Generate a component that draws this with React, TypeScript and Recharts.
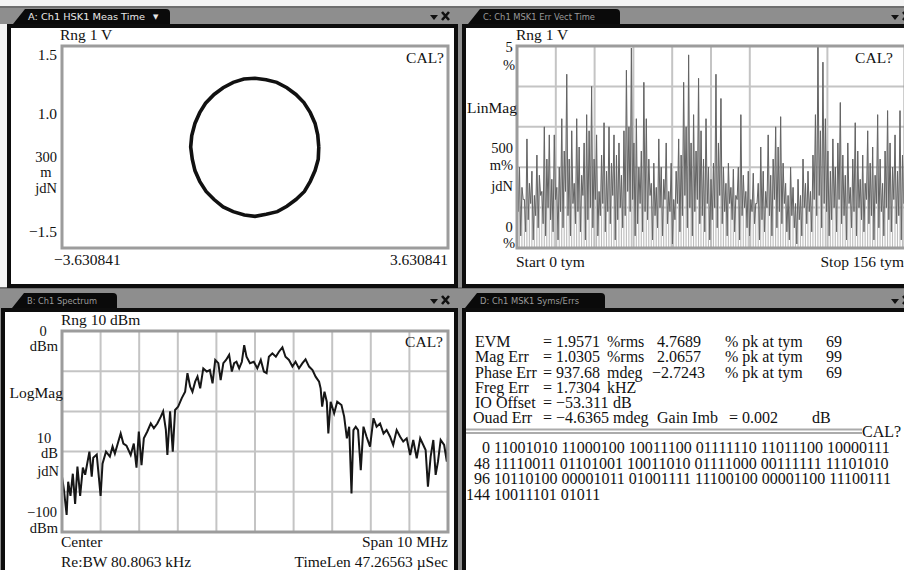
import React from 'react';
import { LineChart, Line, XAxis, YAxis, CartesianGrid, ComposedChart, Bar } from 'recharts';

const serif = '"Liberation Serif", "Times New Roman", serif';

// ---- A: I/Q trace (constellation circle) ----
const iqI = [1.2, 1.18, 1.13, 1.04, 0.92, 0.77, 0.6, 0.41, 0.21, 0.0, -0.21, -0.41, -0.6, -0.77, -0.93, -1.04, -1.13, -1.19, -1.21, -1.18, -1.13, -1.04, -0.92, -0.77, -0.6, -0.41, -0.2, 0.0, 0.21, 0.42, 0.6, 0.77, 0.93, 1.04, 1.13, 1.19, 1.2];
const iqQ = [0.0, 0.18, 0.35, 0.51, 0.66, 0.78, 0.88, 0.96, 1.0, 1.02, 1.01, 0.96, 0.88, 0.78, 0.65, 0.51, 0.35, 0.17, 0.0, -0.18, -0.35, -0.51, -0.66, -0.78, -0.89, -0.96, -1.01, -1.03, -1.0, -0.96, -0.88, -0.78, -0.66, -0.51, -0.35, -0.18, 0.0];

// ---- C: error vector magnitude per symbol (%) ----
const errPeak = [
  2.6, 2.0, 1.5, 1.2, 2.7, 1.6, 1.9, 1.3, 2.3, 1.8,
  1.4, 3.0, 2.2, 2.8, 1.7, 2.8, 1.5, 2.0, 3.2, 2.4,
  4.3, 2.2, 2.9, 1.6, 3.2, 2.5, 1.8, 2.6, 3.3, 2.9,
  4.0, 2.2, 2.8, 1.4, 2.3, 3.1, 1.9, 3.0, 2.1, 2.8,
  2.3, 2.6, 1.8, 2.9, 4.4, 3.0, 4.95, 2.6, 3.2, 2.0,
  2.4, 4.1, 3.2, 2.2, 1.6, 2.1, 1.5, 2.7, 2.0, 1.7,
  2.6, 1.4, 2.1, 1.2, 1.9, 2.7, 2.3, 4.1, 3.0, 4.78,
  2.6, 3.3, 2.4, 4.2, 2.9, 2.2, 3.2, 2.0, 1.7, 2.1,
  4.3, 2.6, 3.7, 2.0, 1.6, 2.1, 1.5, 1.95, 1.3, 2.0,
  3.3, 1.8, 1.4, 1.9, 1.2, 1.85, 1.1, 1.6, 2.5, 1.9,
  1.4, 2.8, 1.8, 2.2, 3.0, 2.5, 3.25, 2.1, 1.6, 1.3,
  2.0, 1.5, 1.1, 1.7, 1.3, 2.2, 1.6, 1.9, 1.4, 2.3,
  3.3, 5.0, 2.9, 4.6, 3.2, 2.4, 1.9, 2.7, 2.0, 2.6,
  3.6, 2.3, 1.8, 2.6, 1.5, 2.2, 3.1, 2.4, 1.7, 2.3,
  1.6, 2.9, 2.1, 2.5, 1.8, 3.3, 2.2, 1.6, 2.4, 3.4,
  2.6, 2.0, 2.8, 1.9, 3.4, 2.3, 2.9,
];
const errLow = [
  0.9, 0.3, 1.2, 0.4, 0.7, 1.1, 0.2, 0.8, 0.5, 1.3,
  0.6, 0.3, 1.0, 0.7, 0.4, 1.2, 0.2, 0.9, 0.5, 1.4,
  0.8, 0.3, 1.1, 0.6, 0.9, 0.4, 1.3, 0.2, 0.7, 1.0,
  0.5, 1.2, 0.3, 0.8, 1.1, 0.4, 0.9, 0.6, 1.3, 0.2,
  0.7, 1.0, 0.5, 0.8, 1.4, 0.9, 1.2, 0.3, 0.6, 1.1,
  0.4, 0.9, 0.7, 1.3, 0.2, 0.8, 0.5, 1.0, 0.3, 1.2,
  0.6, 0.9, 0.1, 0.7, 1.1, 0.4, 0.8, 1.3, 0.5, 1.0,
  0.3, 0.9, 1.2, 0.6, 0.8, 0.4, 1.1, 0.2, 0.7, 1.0,
  0.5, 1.3, 0.6, 0.9, 0.3, 1.1, 0.7, 0.4, 1.2, 0.2,
  0.8, 1.0, 0.5, 0.3, 0.9, 0.6, 1.1, 0.2, 0.7, 0.4,
  1.0, 0.8, 0.3, 1.2, 0.5, 0.9, 0.6, 1.1, 0.4, 0.2,
  0.8, 0.5, 0.1, 0.7, 0.3, 1.0, 0.6, 0.9, 0.4, 1.2,
  0.8, 1.3, 0.5, 1.1, 0.9, 0.3, 0.7, 1.0, 0.4, 1.2,
  0.6, 0.8, 0.2, 1.1, 0.5, 0.9, 0.3, 1.0, 0.7, 0.4,
  1.2, 0.6, 0.8, 0.2, 1.1, 0.5, 0.9, 0.3, 1.0, 0.7,
  0.4, 1.2, 0.6, 0.8, 0.2, 1.1, 0.5,
];
const errXTicks = [0, 15.6, 31.2, 46.8, 62.4, 78, 93.6, 109.2, 124.8, 140.4, 156];
const errYTicks = [0, 0.5, 1, 1.5, 2, 2.5, 3, 3.5, 4, 4.5, 5];

// ---- B: spectrum (MHz offset from center, dBm) ----
const specFreq = [
  -5.0, -4.95, -4.88, -4.84, -4.78, -4.72, -4.66, -4.6, -4.53, -4.46,
  -4.4, -4.29, -4.23, -4.19, -4.1, -4.0, -3.95, -3.86, -3.76, -3.69,
  -3.63, -3.57, -3.48, -3.41, -3.33, -3.22, -3.14, -3.07, -3.01, -2.94,
  -2.88, -2.79, -2.7, -2.62, -2.53, -2.44, -2.38, -2.31, -2.27, -2.2,
  -2.13, -2.07, -1.99, -1.9, -1.81, -1.75, -1.68, -1.62, -1.55, -1.49,
  -1.42, -1.34, -1.25, -1.17, -1.1, -1.03, -0.95, -0.89, -0.82, -0.75,
  -0.67, -0.6, -0.54, -0.48, -0.41, -0.34, -0.28, -0.22, -0.13, -0.03,
  0.06, 0.15, 0.23, 0.3, 0.36, 0.45, 0.54, 0.62, 0.71, 0.79,
  0.88, 0.97, 1.05, 1.14, 1.23, 1.31, 1.4, 1.49, 1.57, 1.66,
  1.7, 1.74, 1.8, 1.86, 1.9, 1.96, 2.05, 2.13, 2.24, 2.31,
  2.38, 2.44, 2.5, 2.55, 2.61, 2.67, 2.74, 2.81, 2.89, 2.98,
  3.07, 3.15, 3.24, 3.33, 3.41, 3.5, 3.58, 3.67, 3.76, 3.84,
  3.93, 4.02, 4.1, 4.19, 4.28, 4.36, 4.42, 4.48, 4.55, 4.62,
  4.68, 4.74, 4.81, 4.9, 4.97, 5.0,
];
const specDb = [
  -72.5, -79, -91.5, -75, -82, -71, -86, -67.5, -82, -68,
  -71.5, -60, -72.5, -63, -61.5, -82, -66, -60, -62.5, -57.5,
  -61, -57, -51, -56, -57, -61.7, -56, -68, -50, -66.7,
  -53.4, -50, -46, -48.4, -46, -42.6, -40, -49, -61.7, -40,
  -60, -39.3, -37.6, -33.5, -30.2, -21, -27.7, -30.2, -25.2, -22.7,
  -28.5, -18.6, -20.2, -19.4, -26, -14.4, -16, -24.4, -16, -14.4,
  -11.9, -20.2, -16, -15.3, -18.6, -15.3, -7, -12.8, -16, -15.3,
  -18.6, -14.4, -20.2, -21, -12.8, -11.1, -12.8, -10.3, -8.1, -12.8,
  -14.4, -17.7, -15.3, -18.6, -16, -14.1, -17.7, -19.4, -22.7, -25.2,
  -28.5, -37.6, -30.2, -35.2, -51, -35.2, -41, -35.2, -36.8, -42.6,
  -53.4, -47.6, -80.8, -49.3, -47.6, -49.3, -69.2, -47.6, -52.6, -57.5,
  -43.4, -47.6, -46, -51, -49.3, -52.6, -56.7, -49.3, -52.6, -55,
  -53.4, -61.7, -54.2, -63.3, -53.4, -56.7, -59.2, -77.4, -62.5, -54.2,
  -71.6, -65, -54.2, -56.7, -65, -52.6,
];
const specXTicks = [-5, -4, -3, -2, -1, 0, 1, 2, 3, 4, 5];
const specYTicks = [-100, -90, -80, -70, -60, -50, -40, -30, -20, -10, 0];

// ---- D: symbol / error table ----
const measRows = [
  [['EVM', 475], ['= 1.9571', 543], ['%rms', 607], ['4.7689', 657], ['% pk at tym', 725], ['69', 826]],
  [['Mag Err', 475], ['= 1.0305', 543], ['%rms', 607], ['2.0657', 657], ['% pk at tym', 725], ['99', 826]],
  [['Phase Err', 475], ['= 937.68', 543], ['mdeg', 607], ['\u22122.7243', 652], ['% pk at tym', 725], ['69', 826]],
  [['Freg Err', 475], ['= 1.7304', 543], ['kHZ', 607]],
  [['IO Offset', 475], ['= \u221253.311', 543], ['dB', 613]],
  [['Ouad Err', 473], ['= \u22124.6365', 543], ['mdeg', 613], ['Gain Imb', 657], ['= 0.002', 729], ['dB', 812]],
];
const measBaselines = [347, 362, 377.5, 393, 408, 423];
const symIndex = ['0', '48', '96', '144'];
const symBits = [
  '11001010 11000100 10011100 01111110 11011100 10000111',
  '11110011 01101001 10011010 01111000 00111111 11101010',
  '10110100 00001011 01001111 11100100 00001100 11100111',
  '10011101 01011',
];
const symBaselines = [453, 468.5, 484, 499.5];

const iqData = iqI.map((v, i) => ({ i: v, q: iqQ[i] }));
const errRows: any[] = [];
errPeak.forEach((p, i) => {
  errRows.push({ t: i, peak: p, v: p });
  if (i < errPeak.length - 1) errRows.push({ t: i + 0.5, v: errLow[i] });
});
const specRows = specFreq.map((f, i) => ({ f, db: specDb[i] }));

const T = ({ x, y, a = 'start', s = 15.5, fill = '#111', children }: any) => (
  <text x={x} y={y} textAnchor={a} fontSize={s} fontFamily={serif} fill={fill}>
    {children}
  </text>
);

const Controls = ({ x, y }: any) => (
  <g>
    <path d={`M${x},${y - 2} L${x + 8},${y - 2} L${x + 4},${y + 3} Z`} fill="#111" />
    <path d={`M${x + 12},${y - 5} L${x + 19},${y + 3} M${x + 19},${y - 5} L${x + 12},${y + 3}`} stroke="#111" strokeWidth={2.6} />
  </g>
);

const Tab = ({ x0, x1, yTop, yBot, label, color, len }: any) => (
  <g>
    <path d={`M${x0},${yBot} L${x0 + 12},${yTop} L${x1 - 4},${yTop} Q${x1},${yTop} ${x1},${yTop + 4} L${x1},${yBot} Z`} fill="#0a0a0a" />
    <text x={x0 + 15} y={yBot - 4} fontSize={9} fontFamily='"DejaVu Sans", sans-serif' fill={color} textLength={len} lengthAdjust="spacingAndGlyphs">
      {label}
    </text>
  </g>
);

const Frame = ({ x, y, w, h }: any) => (
  <g>
    <rect x={x} y={y} width={w} height={h} fill="#0d0d0d" />
    <rect x={x + 4} y={y + 4} width={w - 8} height={h - 8} fill="#ffffff" />
  </g>
);

export default function App() {
  return (
    <div style={{ position: 'absolute', left: 0, top: 0, width: 904, height: 570, overflow: 'hidden', background: '#8e8e8e' }}>
      <svg width={904} height={570} style={{ position: 'absolute', left: 0, top: 0 }}>
        <rect x={0} y={0} width={904} height={6} fill="#f4f4f4" />
        <rect x={0} y={24} width={7} height={264} fill="#f4f4f4" />
        <rect x={0} y={6} width={904} height={2} fill="#6e6e6e" />
        <rect x={0} y={287} width={904} height={2} fill="#6e6e6e" />
        <Frame x={7} y={24} w={451} h={264} />
        <Frame x={462} y={24} w={450} h={264} />
        <Frame x={1} y={308} w={457} h={270} />
        <Frame x={462} y={308} w={450} h={270} />
        <Tab x0={13} x1={170} yTop={9} yBot={24} label="A: Ch1 HSK1 Meas Time" color="#e8e8e8" len={117} />
        <text x={153} y={19} fontSize={7} fill="#e6e6e6" fontFamily='"DejaVu Sans", sans-serif'>{'\u25BC'}</text>
        <Tab x0={468} x1={620} yTop={9} yBot={24} label="C: Ch1 MSK1 Err Vect Time" color="#9a9a9a" len={112} />
        <Tab x0={12} x1={117} yTop={293} yBot={308} label="B: Ch1 Spectrum" color="#9a9a9a" len={70} />
        <Tab x0={465} x1={605} yTop={293} yBot={308} label="D: Ch1 MSK1 Syms/Errs" color="#9a9a9a" len={99} />
        <Controls x={430} y={17} />
        <Controls x={891} y={17} />
        <Controls x={430} y={301} />
        <Controls x={891} y={301} />
      </svg>

      <div style={{ position: 'absolute', left: 0, top: 0 }}>
        <LineChart width={460} height={290} data={iqData} margin={{ top: 46, right: 12, bottom: 42, left: 62 }}>
          <XAxis type="number" dataKey="i" domain={[-3.630841, 3.630841]} hide />
          <YAxis type="number" domain={[-1.5, 1.5]} hide />
          <Line type="linear" dataKey="q" stroke="#111" strokeWidth={3.6} dot={false} isAnimationActive={false} />
        </LineChart>
      </div>

      <div style={{ position: 'absolute', left: 460, top: 0 }}>
        <ComposedChart width={450} height={290} data={errRows} margin={{ top: 46, right: 5, bottom: 42, left: 57 }}>
          <CartesianGrid stroke="#c4c4c4" strokeWidth={2} />
          <XAxis type="number" dataKey="t" domain={[0, 156]} ticks={errXTicks} hide />
          <YAxis type="number" domain={[0, 5]} ticks={errYTicks} hide />
          <Bar dataKey="peak" fill="#bdbdbd" barSize={1.6} isAnimationActive={false} />
          <Line type="linear" dataKey="v" stroke="#646464" strokeWidth={1} dot={false} isAnimationActive={false} connectNulls />
        </ComposedChart>
      </div>

      <div style={{ position: 'absolute', left: 0, top: 285 }}>
        <LineChart width={460} height={290} data={specRows} margin={{ top: 46, right: 12, bottom: 43, left: 62 }}>
          <CartesianGrid stroke="#c4c4c4" strokeWidth={2} />
          <XAxis type="number" dataKey="f" domain={[-5, 5]} ticks={specXTicks} hide />
          <YAxis type="number" domain={[-100, 0]} ticks={specYTicks} hide />
          <Line type="linear" dataKey="db" stroke="#161616" strokeWidth={2} dot={false} isAnimationActive={false} />
        </LineChart>
      </div>

      <svg width={904} height={570} style={{ position: 'absolute', left: 0, top: 0, pointerEvents: 'none' }}>
        {/* plot borders */}
        <rect x={62} y={46} width={386} height={202} fill="none" stroke="#9c9c9c" strokeWidth={3} />
        <rect x={517} y={46} width={388} height={202} fill="none" stroke="#9c9c9c" strokeWidth={3} />
        <rect x={62} y={331} width={386} height={201} fill="none" stroke="#9c9c9c" strokeWidth={3} />

        {/* A labels */}
        <T x={60} y={40}>Rng 1 V</T>
        <T x={444} y={63} a="end">CAL?</T>
        <T x={57} y={60} a="end">1.5</T>
        <T x={57} y={119} a="end">1.0</T>
        <T x={46} y={162} a="middle" s={14.5}>300</T>
        <T x={46} y={177} a="middle" s={14.5}>m</T>
        <T x={46} y={193} a="middle" s={14.5}>jdN</T>
        <T x={57} y={237} a="end">{'\u22121.5'}</T>
        <T x={54} y={265}>{'\u22123.630841'}</T>
        <T x={448} y={265} a="end">3.630841</T>

        {/* C labels */}
        <T x={516} y={40}>Rng 1 V</T>
        <T x={893} y={63} a="end">CAL?</T>
        <T x={509} y={52} a="middle" s={14.5}>5</T>
        <T x={509} y={70} a="middle" s={14.5}>%</T>
        <T x={517} y={113} a="end">LinMag</T>
        <T x={513} y={153} a="end" s={14.5}>500</T>
        <T x={513} y={170} a="end" s={14.5}>m%</T>
        <T x={513} y={191} a="end" s={14.5}>jdN</T>
        <T x={509} y={232} a="middle" s={14.5}>0</T>
        <T x={509} y={248} a="middle" s={14.5}>%</T>
        <T x={516} y={267}>Start 0 tym</T>
        <T x={904} y={267} a="end">Stop 156 tym</T>

        {/* B labels */}
        <T x={61} y={325}>Rng 10 dBm</T>
        <T x={443} y={347} a="end">CAL?</T>
        <T x={43} y={336} a="middle" s={14.5}>0</T>
        <T x={58} y={351} a="end" s={14.5}>dBm</T>
        <T x={63} y={398} a="end">LogMag</T>
        <T x={44} y={443} a="middle" s={14.5}>10</T>
        <T x={58} y={458} a="end" s={14.5}>dB</T>
        <T x={59} y={476} a="end" s={14.5}>jdN</T>
        <T x={57} y={517} a="end" s={14.5}>{'\u2212100'}</T>
        <T x={58} y={533} a="end" s={14.5}>dBm</T>
        <T x={61} y={547}>Center</T>
        <T x={448} y={547} a="end">Span 10 MHz</T>
        <T x={61} y={567}>Re:BW 80.8063 kHz</T>
        <T x={448} y={567} a="end">TimeLen 47.26563 {'\u00B5'}Sec</T>

        {/* D table */}
        {measRows.map((row, r) =>
          row.map(([txt, x], c) => (
            <T key={`m${r}-${c}`} x={x} y={measBaselines[r]} s={16}>{txt}</T>
          ))
        )}
        <line x1={466} y1={429.5} x2={862} y2={429.5} stroke="#ababab" strokeWidth={2} />
        <line x1={466} y1={433} x2={862} y2={433} stroke="#ababab" strokeWidth={2} />
        <T x={862} y={437} s={16}>CAL?</T>
        {symIndex.map((n, r) => (
          <g key={`s${r}`}>
            <T x={490} y={symBaselines[r]} a="end" s={16}>{n}</T>
            <T x={494} y={symBaselines[r]} s={16}>{symBits[r]}</T>
          </g>
        ))}
      </svg>
    </div>
  );
}
